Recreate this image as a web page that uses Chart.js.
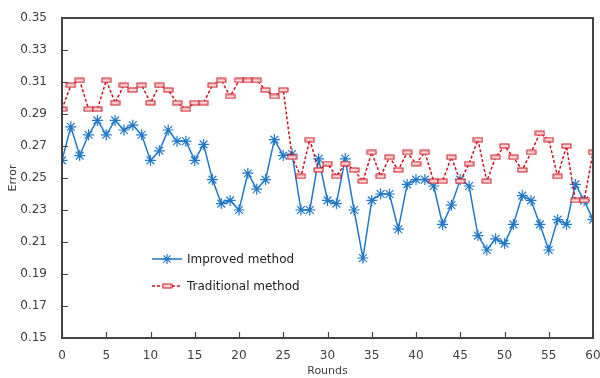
<!DOCTYPE html>
<html>
<head>
<meta charset="utf-8">
<script src="https://cdn.jsdelivr.net/npm/chart.js@4.4.0/dist/chart.umd.min.js"></script>
<style>
  html,body{margin:0;padding:0;background:#fff;}
  #wrap{width:600px;height:378px;}
</style>
</head>
<body>
<div id="wrap"><canvas id="errChart" width="600" height="378"></canvas></div>
<script>
// values
const rounds = [0,1,2,3,4,5,6,7,8,9,10,11,12,13,14,15,16,17,18,19,20,
  21,22,23,24,25,26,27,28,29,30,31,32,33,34,35,36,37,38,39,40,
  41,42,43,44,45,46,47,48,49,50,51,52,53,54,55,56,57,58,59,60];
const improved = [0.261,0.282,0.264,0.277,0.286,0.277,0.286,0.280,0.283,0.277,0.261,
  0.267,0.280,0.273,0.273,0.261,0.271,0.249,0.234,0.236,0.230,
  0.253,0.243,0.249,0.274,0.264,0.265,0.230,0.230,0.262,0.236,
  0.234,0.262,0.230,0.200,0.236,0.240,0.240,0.218,0.246,0.249,
  0.249,0.245,0.221,0.233,0.249,0.245,0.214,0.205,0.212,0.209,
  0.221,0.239,0.236,0.221,0.205,0.224,0.221,0.246,0.236,0.224];
const traditional = [0.293,0.308,0.311,0.293,0.293,0.311,0.297,0.308,0.305,0.308,0.297,
  0.308,0.305,0.297,0.293,0.297,0.297,0.308,0.311,0.301,0.311,
  0.311,0.311,0.305,0.301,0.305,0.263,0.251,0.274,0.255,0.259,
  0.251,0.259,0.255,0.248,0.266,0.251,0.263,0.255,0.266,0.259,
  0.266,0.248,0.248,0.263,0.248,0.259,0.274,0.248,0.263,0.270,
  0.263,0.255,0.266,0.278,0.274,0.251,0.270,0.236,0.236,0.266];
const yTicks = [0.15,0.17,0.19,0.21,0.23,0.25,0.27,0.29,0.31,0.33,0.35];
const xTicks = [0,5,10,15,20,25,30,35,40,45,50,55,60];

const BLUE = '#2079c8';
const RED = '#cc1420';
const AXIS = '#444444';
const TXT = '#404040';
const FONT = '"DejaVu Sans", Verdana, sans-serif';

// small hollow rectangle used as marker of the red series
function rectMarker(){
  const c = document.createElement('canvas');
  c.width = 11; c.height = 6;
  const g = c.getContext('2d');
  g.fillStyle = '#f8d6d6';
  g.fillRect(1,1,9,4);
  g.strokeStyle = RED;
  g.lineWidth = 1;
  g.strokeRect(1,1,9,4);
  return c;
}
const redMark = rectMarker();

function drawStar(ctx, x, y, r){
  ctx.beginPath();
  ctx.moveTo(x-r, y); ctx.lineTo(x+r, y);
  ctx.moveTo(x, y-r); ctx.lineTo(x, y+r);
  const d = r*0.72;
  ctx.moveTo(x-d, y-d); ctx.lineTo(x+d, y+d);
  ctx.moveTo(x-d, y+d); ctx.lineTo(x+d, y-d);
  ctx.stroke();
}

// frame, inward ticks and legend, drawn last
const overlayPlugin = {
  id:'overlayPlugin',
  afterRender(chart){
    const ctx = chart.ctx;
    const a = chart.chartArea;
    const sx = chart.scales.x, sy = chart.scales.y;
    ctx.save();
    ctx.setLineDash([]);
    ctx.globalAlpha = 1;
    ctx.strokeStyle = AXIS;
    ctx.lineWidth = 2;
    ctx.strokeRect(Math.round(a.left), Math.round(a.top), Math.round(a.right - a.left), Math.round(a.bottom - a.top));
    ctx.lineWidth = 1.2;
    ctx.beginPath();
    yTicks.forEach(v=>{
      const py = Math.round(sy.getPixelForValue(v))+0.5;
      ctx.moveTo(a.left, py); ctx.lineTo(a.left+6, py);
    });
    xTicks.forEach(v=>{
      const px = Math.round(sx.getPixelForValue(v))+0.5;
      ctx.moveTo(px, a.bottom); ctx.lineTo(px, a.bottom-6);
    });
    ctx.stroke();

    const x0 = 152, x1 = 182, tx = 187;
    const rows = [
      {y:259, ds:chart.data.datasets[1]},
      {y:286, ds:chart.data.datasets[0]}
    ];
    ctx.font = '12px ' + FONT;
    ctx.textBaseline = 'middle';
    rows.forEach(r=>{
      ctx.strokeStyle = r.ds.borderColor;
      ctx.lineWidth = r.ds.borderWidth;
      ctx.setLineDash(r.ds.borderDash || []);
      ctx.beginPath(); ctx.moveTo(x0, r.y); ctx.lineTo(x1, r.y); ctx.stroke();
      ctx.setLineDash([]);
      const cx = (x0+x1)/2;
      if(r.ds.pointStyle === 'star'){
        ctx.lineWidth = 1.2;
        drawStar(ctx, cx, r.y, 5);
      } else {
        ctx.drawImage(redMark, cx-5.5, r.y-3);
      }
      ctx.fillStyle = '#222';
      ctx.fillText(r.ds.label, tx, r.y+1);
    });
    ctx.restore();
  }
};

new Chart(document.getElementById('errChart').getContext('2d'), {
  type:'line',
  data:{
    labels: rounds,
    datasets:[
      {
        label:'Traditional method',
        data: traditional,
        borderColor: RED,
        borderWidth: 1.5,
        borderDash:[3,2],
        pointStyle: redMark,
        pointRadius: 5,
        tension: 0,
        fill:false
      },
      {
        label:'Improved method',
        data: improved,
        borderColor: BLUE,
        backgroundColor: BLUE,
        borderWidth: 1.5,
        pointStyle:'star',
        pointRadius: 5.5,
        pointBorderWidth: 1.2,
        pointBorderColor: BLUE,
        tension: 0,
        fill:false
      }
    ]
  },
  options:{
    responsive:false,
    animation:false,
    layout:{ padding:{ left:0, right:0, top:18, bottom:0 } },
    plugins:{ legend:{ display:false }, tooltip:{ enabled:false } },
    scales:{
      x:{
        type:'linear', min:0, max:60,
        afterFit(s){ s.height = 40; s.paddingRight = 7; },
        grid:{ display:false },
        border:{ display:true, color:AXIS, width:2 },
        ticks:{ stepSize:5, padding:3, color:TXT, font:{ family:FONT, size:12 } },
        title:{ display:true, text:'Rounds', color:TXT, font:{ family:FONT, size:11 }, padding:{ top:-4, bottom:0 } }
      },
      y:{
        min:0.15, max:0.35,
        afterFit(s){ s.width = 62; },
        grid:{ display:false },
        border:{ display:true, color:AXIS, width:2 },
        ticks:{ stepSize:0.02, padding:7, color:TXT, font:{ family:FONT, size:12 },
          callback:v=>Number(v).toFixed(2) },
        title:{ display:true, text:'Error', color:TXT, font:{ family:FONT, size:11 }, padding:{ top:7, bottom:0 } }
      }
    }
  },
  plugins:[overlayPlugin]
});
</script>
</body>
</html>
